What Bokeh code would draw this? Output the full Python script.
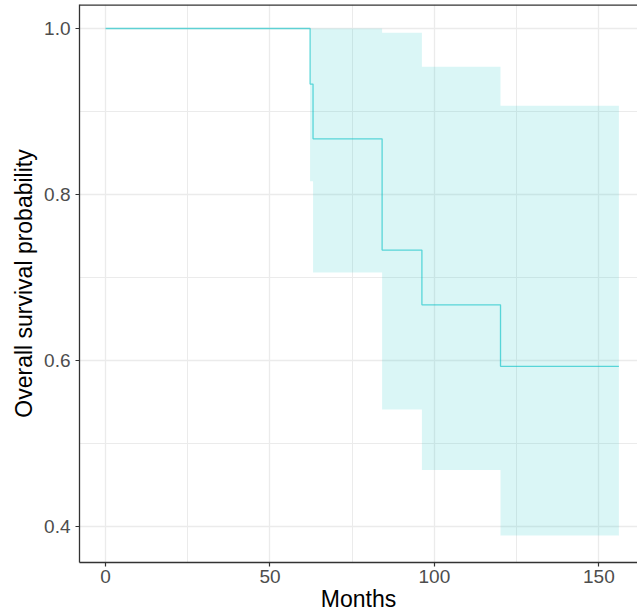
from bokeh.plotting import figure
from bokeh.models import FixedTicker, LinearAxis, Range1d, Span
from bokeh.embed import file_html
from bokeh.resources import INLINE

# Kaplan-Meier estimate (months) with confidence band
time = [0, 62.2, 63.1, 84.1, 96.2, 120.1, 156.1]
surv = [1.0, 0.933, 0.867, 0.733, 0.667, 0.593, 0.593]
upper = [1.0, 1.0, 1.0, 0.995, 0.954, 0.907, 0.907]
lower = [1.0, 0.816, 0.706, 0.541, 0.468, 0.389, 0.389]

x_ticks = [0, 50, 100, 150]
x_minor = [25, 75, 125]
y_ticks = [0.4, 0.6, 0.8, 1.0]
y_minor = [0.5, 0.7, 0.9]
y_tick_labels = {0.4: "0.4", 0.6: "0.6", 0.8: "0.8", 1.0: "1.0"}

FONT = "Liberation Sans"
DARK = "#333333"
GRID = "#EBEBEB"

Y_END = 1.0289
p = figure(width=637, height=615, output_backend="svg", toolbar_location=None,
           x_range=Range1d(-7.905, 161.75), y_range=Range1d(0.3566, Y_END),
           min_border_left=79, min_border_right=0, min_border_top=4, min_border_bottom=53)
p.outline_line_color = None
p.background_fill_color = "white"
p.border_fill_color = "white"

xa = p.below[0]
ya = p.left[0]
xa.ticker = FixedTicker(ticks=x_ticks, minor_ticks=x_minor)
ya.ticker = FixedTicker(ticks=y_ticks, minor_ticks=y_minor)
ya.major_label_overrides = y_tick_labels

for ax in (xa, ya):
    ax.axis_line_color = DARK
    ax.axis_line_width = 1.3
    ax.major_tick_line_color = DARK
    ax.major_tick_line_width = 1.2
    ax.major_tick_out = 4
    ax.major_tick_in = 0
    ax.minor_tick_line_color = None
    ax.major_label_text_font = FONT
    ax.major_label_text_font_size = "19px"
    ax.major_label_text_color = "#4D4D4D"
    ax.axis_label_text_font = FONT
    ax.axis_label_text_font_size = "23px"
    ax.axis_label_text_color = "black"
    ax.axis_label_text_font_style = "normal"

xa.axis_label = "Months"
xa.major_label_standoff = 3
xa.axis_label_standoff = 0
ya.axis_label = "Overall survival probability"
ya.major_label_standoff = 5
ya.axis_label_standoff = 4

p.xgrid.ticker = FixedTicker(ticks=x_ticks, minor_ticks=x_minor)
p.ygrid.ticker = FixedTicker(ticks=y_ticks, minor_ticks=y_minor)
for g in (p.xgrid, p.ygrid):
    g.grid_line_color = GRID
    g.grid_line_width = 1.3
    g.minor_grid_line_color = GRID
    g.minor_grid_line_width = 1.0

p.varea_step(x=time, y1=lower, y2=upper, step_mode="after",
             fill_color="#00BFC4", fill_alpha=0.145)
p.step(x=time, y=surv, mode="after", line_color="#00BFC4", line_alpha=0.6, line_width=1.3)

# top panel border
p.add_layout(Span(location=Y_END, dimension="width", line_color=DARK, line_width=2.6))

open("out.html", "w").write(file_html(p, INLINE))
